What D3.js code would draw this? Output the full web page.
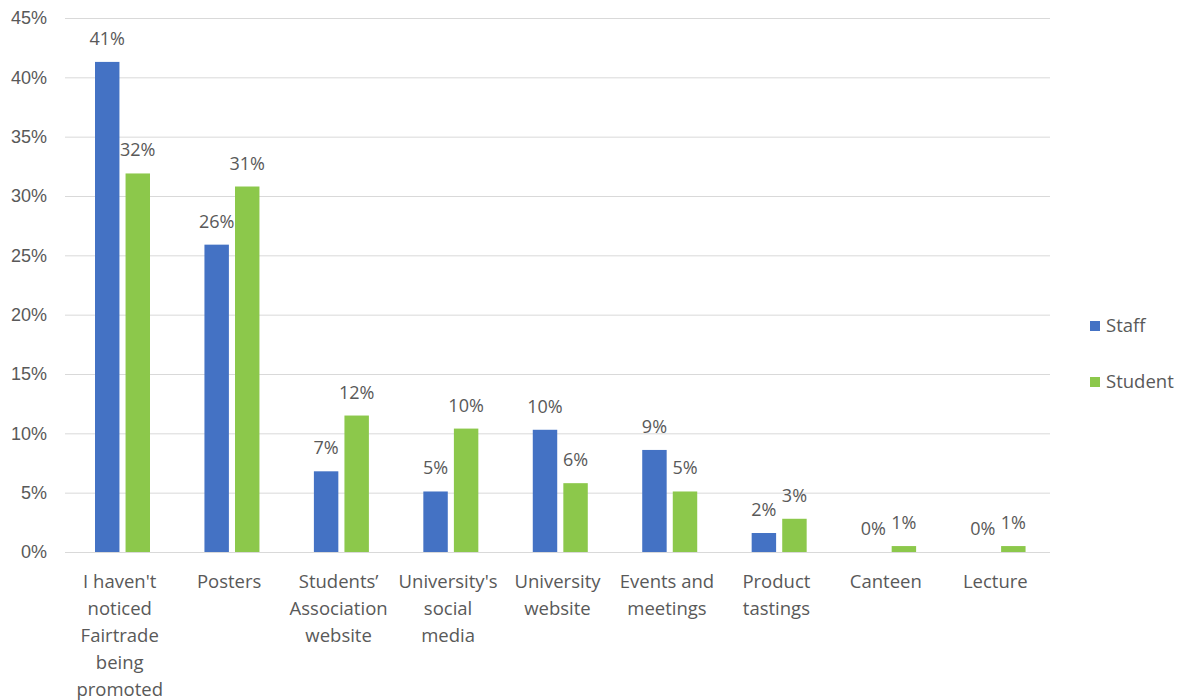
<!DOCTYPE html>
<html>
<head>
<meta charset="utf-8">
<script src="https://cdn.jsdelivr.net/npm/d3@7/dist/d3.min.js"></script>
<style>
  html, body { margin: 0; padding: 0; background: #ffffff; }
  svg { display: block; font-family: "Open Sans", "Noto Sans", sans-serif; }
</style>
</head>
<body>
<svg id="chart" width="1184" height="700"></svg>
<script>
// Where respondents noticed Fairtrade being promoted, by group
const categories = [
  "I haven't\nnoticed\nFairtrade\nbeing\npromoted",
  "Posters",
  "Students’\nAssociation\nwebsite",
  "University's\nsocial\nmedia",
  "University\nwebsite",
  "Events and\nmeetings",
  "Product\ntastings",
  "Canteen",
  "Lecture"
];
const seriesNames = ["Staff", "Student"];
const staffValues   = [0.413, 0.259, 0.068, 0.051, 0.103, 0.086, 0.016, 0.000, 0.000];
const studentValues = [0.319, 0.308, 0.115, 0.104, 0.058, 0.051, 0.028, 0.005, 0.005];
const yTicks = [0, 0.05, 0.10, 0.15, 0.20, 0.25, 0.30, 0.35, 0.40, 0.45];
const colors = ["#4472c4", "#8cc84b"];

const rows = categories.map((c, i) => ({
  category: c,
  values: [
    { series: seriesNames[0], value: staffValues[i] },
    { series: seriesNames[1], value: studentValues[i] }
  ]
}));

const svg = d3.select("#chart");
const plot = { left: 65, right: 1050, top: 18, bottom: 552 };
const textColor = "#595959";
const pct = d3.format(".0%");

const x0 = d3.scaleBand().domain(categories).range([plot.left, plot.right]);
const x1 = d3.scaleBand().domain(seriesNames).range([30, 85]).paddingInner(0.2);
const y = d3.scaleLinear().domain([0, 0.45]).range([plot.bottom, plot.top]);
const color = d3.scaleOrdinal().domain(seriesNames).range(colors);

// horizontal gridlines and percentage tick labels
const yAxis = d3.axisLeft(y)
  .tickValues(yTicks)
  .tickFormat(pct)
  .tickSize(-(plot.right - plot.left))
  .tickPadding(18);

const gy = svg.append("g")
  .attr("transform", `translate(${plot.left},0)`)
  .call(yAxis);
gy.select(".domain").remove();
gy.selectAll(".tick line").attr("stroke", "#d9d9d9").attr("stroke-width", 1);
gy.selectAll(".tick text")
  .attr("fill", textColor)
  .style("font-size", "18px");

// grouped bars
const groups = svg.append("g").selectAll("g")
  .data(rows)
  .join("g")
  .attr("transform", d => `translate(${x0(d.category)},0)`);

groups.selectAll("rect")
  .data(d => d.values)
  .join("rect")
  .attr("x", d => x1(d.series))
  .attr("width", x1.bandwidth())
  .attr("y", d => y(d.value))
  .attr("height", d => y(0) - y(d.value))
  .attr("fill", d => color(d.series));

// value labels above each bar
groups.selectAll("text.value")
  .data(d => d.values)
  .join("text")
  .attr("class", "value")
  .attr("x", d => x1(d.series) + x1.bandwidth() / 2)
  .attr("y", d => y(d.value) - 17)
  .attr("text-anchor", "middle")
  .attr("fill", textColor)
  .style("font-size", "18px")
  .text(d => pct(d.value));

// category labels, one tspan per line
const xAxisLabels = svg.append("g").selectAll("text")
  .data(categories)
  .join("text")
  .attr("x", d => x0(d) + x0.bandwidth() / 2)
  .attr("y", 588)
  .attr("text-anchor", "middle")
  .attr("fill", textColor)
  .style("font-size", "18.5px");

xAxisLabels.selectAll("tspan")
  .data(d => d.split("\n"))
  .join("tspan")
  .attr("x", function () { return d3.select(this.parentNode).attr("x"); })
  .attr("dy", (d, i) => i === 0 ? 0 : 27)
  .text(d => d);

// legend
const legend = svg.append("g").selectAll("g")
  .data(seriesNames)
  .join("g")
  .attr("transform", (d, i) => `translate(1090,${321 + i * 56})`);

legend.append("rect")
  .attr("width", 10)
  .attr("height", 10)
  .attr("fill", d => color(d));

legend.append("text")
  .attr("x", 16)
  .attr("y", 5)
  .attr("dy", "0.35em")
  .attr("fill", textColor)
  .style("font-size", "18.5px")
  .text(d => d);
</script>
</body>
</html>
